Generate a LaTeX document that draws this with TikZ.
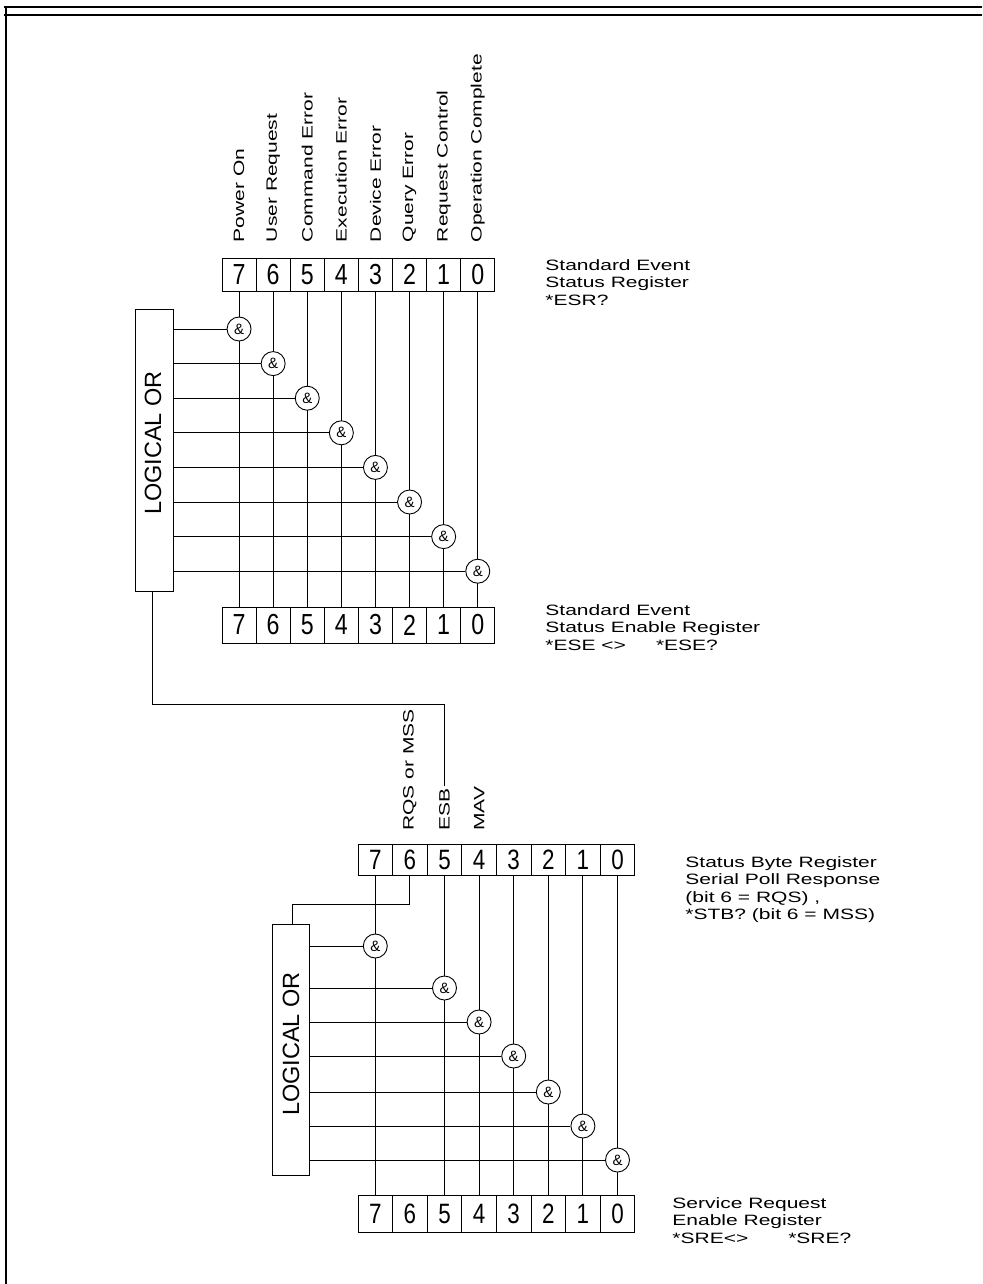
\documentclass[tikz,border=0pt]{standalone}
\usepackage{fontspec}
\setmainfont{Liberation Sans}
\newfontfamily\lblfont[FakeStretch=1.4]{Liberation Sans}
\newfontfamily\digfont[FakeStretch=0.8]{Liberation Sans}
\begin{document}
\begin{tikzpicture}[x=1pt,y=-1pt,line width=0.9pt,
  cellbox/.style={draw,inner sep=0pt,minimum width=34.1pt,minimum height=33pt,font=\digfont\fontsize{29}{29}\selectfont},
  cellboxB/.style={draw,inner sep=0pt,minimum width=34.6pt,minimum height=31pt,font=\digfont\fontsize{28}{28}\selectfont},
  gate/.style={draw,circle,fill=white,minimum size=24pt,inner sep=0pt,font=\fontsize{15}{15}\selectfont},
  orbox/.style={draw,inner sep=0pt},
  ortext/.style={rotate=90,inner sep=0pt,font=\fontsize{23.5}{23.5}\selectfont},
  bitlbl/.style={rotate=90,anchor=west,inner sep=2pt,font=\lblfont\fontsize{15}{18}\selectfont},
  reglbl/.style={anchor=north west,align=left,inner sep=0pt,font=\lblfont\fontsize{15}{17.5}\selectfont},
  frame/.style={line width=2.2pt}]
\useasboundingbox (0,0) rectangle (982,1284);
% frame
\draw[frame] (4,7) -- (982,7);
\draw[frame] (4,15) -- (982,15);
\draw[frame] (6,6) -- (6,1284);

% ---------- upper section ----------
\foreach \b [count=\i from 0] in {7,6,5,4,3,2,1,0}{
  \node[cellbox] (A\b) at ({222+34.1*(\i+0.5)},274.5) {\b};
  \node[cellbox,minimum height=36pt] (E\b) at ({222+34.1*(\i+0.5)},625) {\b};
}
\node[orbox,minimum width=38pt,minimum height=282pt] (orA) at (154,450) {};
\node[ortext] (orAtxt) at (153,443) {LOGICAL OR};
\foreach \b [count=\i from 0] in {7,6,5,4,3,2,1,0}{
  \draw (A\b.south) -- (E\b.north);
}
\foreach \b [count=\i from 0] in {7,6,5,4,3,2,1,0}{
  \node[gate] (gA\b) at ({222+34.1*(\i+0.5)},{329+34.6*\i}) {\&};
  \draw (orA.east |- gA\b) -- (gA\b.west);
}
\foreach \b/\t in {7/Power On,6/User Request,5/Command Error,4/Execution Error,3/Device Error,2/Query Error,1/Request Control,0/Operation Complete}{
  \node[bitlbl] (lA\b) at ([yshift=13pt]A\b.north) {\t};
}
\node[reglbl] (rA) at (545,259) {Standard Event\\Status Register\\*ESR?};
\node[reglbl] (rE) at (545,604) {Standard Event\\Status Enable Register\\*ESE <>\hspace{30pt}*ESE?};

% ---------- lower section ----------
\foreach \b [count=\i from 0] in {7,6,5,4,3,2,1,0}{
  \node[cellboxB] (B\b) at ({358+34.6*(\i+0.5)},860) {\b};
  \node[cellboxB,minimum height=37pt] (C\b) at ({358+34.6*(\i+0.5)},1214) {\b};
}
\node[bitlbl] (lB6) at ([yshift=11pt]B6.north) {RQS or MSS};
\node[bitlbl] (lB5) at ([yshift=11pt]B5.north) {ESB};
\node[bitlbl] (lB4) at ([yshift=11pt]B4.north) {MAV};
\node[orbox,minimum width=37pt,minimum height=251pt] (orB) at (290.5,1049.5) {};
\node[ortext] (orBtxt) at (291,1044) {LOGICAL OR};
\foreach \b in {7,5,4,3,2,1,0}{
  \draw (B\b.south) -- (C\b.north);
}
\foreach \b/\y in {7/946,5/988,4/1022,3/1056,2/1092,1/1126,0/1160}{
  \node[gate] (gB\b) at (B\b.south |- 0,\y) {\&};
  \draw (orB.east |- gB\b) -- (gB\b.west);
}
\coordinate (c2) at (292,904);
\draw (B6.south) |- (c2) -- (c2 |- orB.north);
\coordinate (c1) at (152,704);
\draw (c1 |- orA.south) -- (c1) -| (lB5.east);
\node[reglbl] (rB) at (685,856) {Status Byte Register\\Serial Poll Response\\(bit 6 = RQS) ,\\*STB? (bit 6 = MSS)};
\node[reglbl] (rC) at (672,1197) {Service Request\\Enable Register\\*SRE<>\hspace{40pt}*SRE?};
\end{tikzpicture}
\end{document}
